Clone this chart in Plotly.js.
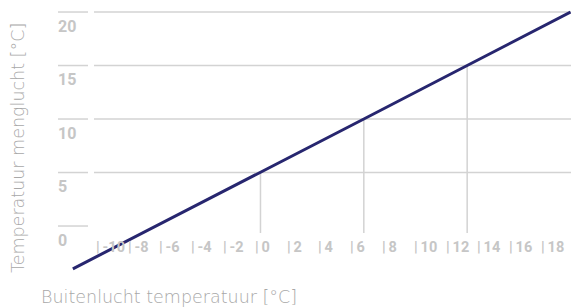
<!DOCTYPE html>
<html>
<head>
<meta charset="utf-8">
<script src="https://cdn.plot.ly/plotly-3.0.1.min.js"></script>
<style>html,body{margin:0;padding:0;background:#fff;}#chart{width:571px;height:307px;}</style>
</head>
<body>
<div id="chart"></div>
<script>
// Data
var outdoorTemp = [-11.5, 0.3, 6.8, 13.3, 19.8];   // Buitenlucht temperatuur [°C]
var mixTemp     = [-4, 5, 10, 15, 20];             // Temperatuur menglucht [°C]
var xTickValues = [-10, -8, -6, -4, -2, 0, 2, 4, 6, 8, 10, 12, 14, 16, 18];
var yTickValues = [0, 5, 10, 15, 20];
var xTitle = 'Buitenlucht temperatuur [°C]';
var yTitle = 'Temperatuur menglucht [°C]';

var gridColor = '#d3d3d3';
var tickColor = '#c6c6c6';
var titleColor = '#a8a8a8';
var lineColor = '#27266f';
var dropFloor = -0.65;
var titleFont = 'DejaVu Sans ExtraLight, DejaVu Sans Light, DejaVu Sans, sans-serif';

// drop lines from the curve at the 5/10/15 gridlines
var dropX = [], dropY = [];
for (var i = 0; i < outdoorTemp.length; i++) {
  var m = mixTemp[i];
  if (m > 0 && m < 20) {
    dropX.push(outdoorTemp[i], outdoorTemp[i], null);
    dropY.push(m, dropFloor, null);
  }
}

var traces = [
  {x: dropX, y: dropY, mode: 'lines', line: {color: gridColor, width: 1.5},
   hoverinfo: 'skip', showlegend: false},
  {x: outdoorTemp, y: mixTemp, mode: 'lines', line: {color: lineColor, width: 3},
   showlegend: false}
];

var shapes = [];
var annotations = [];
yTickValues.forEach(function (v) {
  shapes.push({type: 'line', xref: 'paper', yref: 'y', x0: 0.0339, x1: 0.0904, y0: v, y1: v,
               line: {color: gridColor, width: 1.5}, layer: 'below'});
  if (v > 0) {
    shapes.push({type: 'line', xref: 'paper', yref: 'y', x0: 0.1017, x1: 1, y0: v, y1: v,
                 line: {color: gridColor, width: 1.5}, layer: 'below'});
  }
  annotations.push({xref: 'paper', yref: 'y', x: 0.0339, y: v, xanchor: 'left', yanchor: 'middle',
                    yshift: -14, xshift: -2, showarrow: false, text: String(v),
                    font: {family: 'Roboto, Liberation Sans, sans-serif', size: 16, weight: 700, color: tickColor}});
});
xTickValues.forEach(function (v) {
  annotations.push({xref: 'x', yref: 'y', x: v, y: -1.96, xanchor: 'left', yanchor: 'middle',
                    xshift: -3, showarrow: false, text: '|\u2009' + v,
                    font: {family: 'Roboto, Liberation Sans, sans-serif', size: 14.5, weight: 700, color: tickColor}});
});
annotations.push({xref: 'paper', yref: 'paper', x: 0.243, y: -0.077, xanchor: 'center', yanchor: 'middle',
                  showarrow: false, text: xTitle,
                  font: {family: titleFont, size: 17.5, weight: 200, color: titleColor}});
annotations.push({xref: 'paper', yref: 'paper', x: -0.0414, y: 0.4706, xanchor: 'center', yanchor: 'middle',
                  textangle: -90, showarrow: false, text: yTitle,
                  font: {family: titleFont, size: 17.5, weight: 200, color: titleColor}});

var layout = {
  width: 571, height: 307,
  margin: {l: 40, r: 0, t: 4, b: 31, pad: 0},
  paper_bgcolor: '#ffffff', plot_bgcolor: 'rgba(0,0,0,0)',
  showlegend: false,
  xaxis: {range: [-13.566, 19.83], showgrid: false, zeroline: false, showline: false,
          showticklabels: false, ticks: '', fixedrange: true},
  yaxis: {range: [-4.67, 20.75], showgrid: false, zeroline: false, showline: false,
          showticklabels: false, ticks: '', fixedrange: true},
  shapes: shapes,
  annotations: annotations
};

Plotly.newPlot('chart', traces, layout, {displayModeBar: false, staticPlot: true});
</script>
</body>
</html>
